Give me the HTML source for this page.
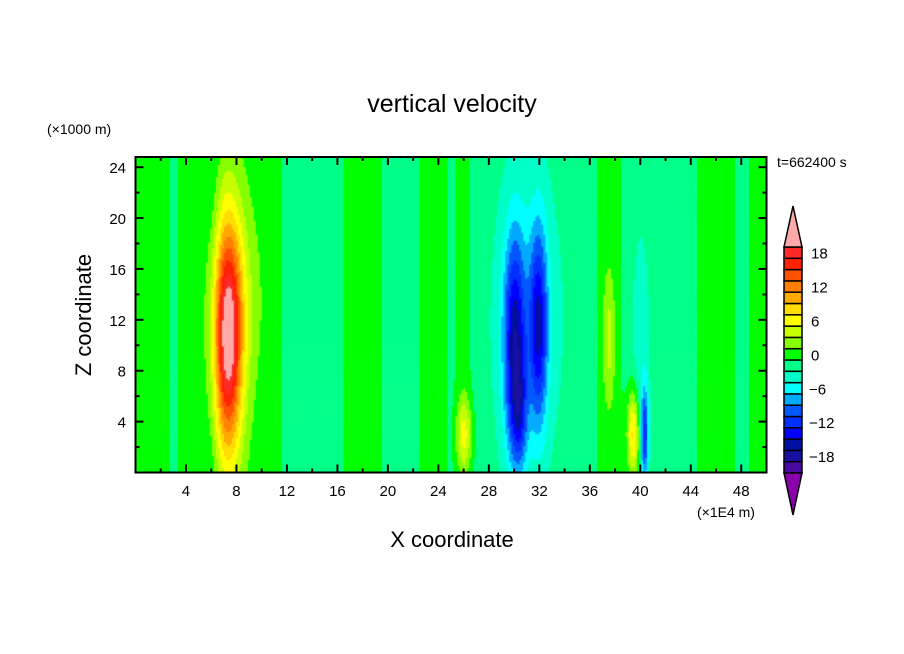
<!DOCTYPE html>
<html><head><meta charset="utf-8"><style>
body{margin:0;background:#fff;width:904px;height:654px;overflow:hidden;font-family:"Liberation Sans","DejaVu Sans",sans-serif}
svg{position:absolute;left:0;top:0}
canvas{position:absolute;left:136px;top:157px}
</style></head><body>
<canvas id="cv" width="631" height="315"></canvas>
<svg id="sv" width="904" height="654"></svg>
<script>
// ---- data ----
const levels=[-20,-18,-16,-14,-12,-10,-8,-6,-4,-2,0,2,4,6,8,10,12,14,16,18,20];
const bandColors=["#4a0aa0","#1a10a0","#0010a0","#0000ff","#0030ff","#0058ff","#00aaff","#00ffff","#00ffc8","#00ff88","#00ff00","#88ff00","#c8ff00","#ffff00","#ffdd00","#ffaa00","#ff8000","#ff5000","#ff2200","#ff2828"];
const overColor="#ffaaaa", underColor="#8a00aa";
const xTicks=[4,8,12,16,20,24,28,32,36,40,44,48];
const zTicks=[4,8,12,16,20,24];
const cbLabels=[18,12,6,0,-6,-12,-18];
// background stripe values at x = 0,1,...,50
const bgCols=[1,0.5,1,-0.5,1,1,-0.6,1,1,1,1,1,-1,-1,-1,-1,-1,1,1,1,-1,-1,-1,1,1,-0.5,1,-1,-1,-1,-1,-1,-1,-1,-1,-1,-1,1,0.8,-1,-1,-1,-1,-1,-1,1,1,1,-1,1,1];
// features: x, z, sigma-x, sigma-z, amplitude
const featX=[7.3,7.9,30.0,30.4,31.9,31.0,26.0,37.5,39.4,40.3,40.0];
const featZ=[10.5,13.5,10.0,4.5,11.5,12.0,3.0,10.5,3.0,3.0,9.0];
const featSX=[0.8,1.3,0.6,0.45,0.5,1.8,0.45,0.3,0.35,0.2,0.5];
const featSZ=[6.5,5.5,6.0,3.0,5.5,8.0,2.0,3.5,2.5,2.5,7.0];
const featA=[20,3,-12,-6,-11,-3.5,6,4,10,-10,-2.5];
// ---- axes ----
const X0=135.5,X1=766.5,Y0=472.5,Y1=157;
const XMAX=50,ZMAX=24.8;
const sx=v=>X0+(v/XMAX)*(X1-X0);
const sz=v=>Y0-(v/ZMAX)*(Y0-Y1);
function field(x,z){
  const i=Math.min(49,Math.floor(x)),f=x-i;
  let v=bgCols[i]*(1-f)+bgCols[i+1]*f;
  for(let k=0;k<featX.length;k++){
    const dx=(x-featX[k])/featSX[k],dz=(z-featZ[k])/featSZ[k];
    v+=featA[k]*Math.exp(-0.5*(dx*dx+dz*dz));
  }
  return v;
}
function colorOf(v){
  if(v>=levels[levels.length-1])return overColor;
  if(v<levels[0])return underColor;
  for(let i=0;i<bandColors.length;i++) if(v<levels[i+1])return bandColors[i];
}
const cv=document.getElementById('cv'),ctx=cv.getContext('2d');
const NX=316,NZ=158,cw=631/NX,ch=315/NZ;
for(let i=0;i<NX;i++)for(let j=0;j<NZ;j++){
  const x=(i+0.5)/NX*XMAX,z=ZMAX-(j+0.5)/NZ*ZMAX;
  ctx.fillStyle=colorOf(field(x,z));
  ctx.fillRect(i*cw,j*ch,cw+0.6,ch+0.6);
}
const sv=document.getElementById('sv'),NS="http://www.w3.org/2000/svg";
function el(t,a,txt){const e=document.createElementNS(NS,t);for(const k in a)e.setAttribute(k,a[k]);if(txt!=null)e.textContent=txt;sv.appendChild(e);return e;}
let e;
e=el('rect',{x:X0,y:Y1,width:X1-X0,height:Y0-Y1,fill:'none',stroke:'#000','stroke-width':2});

for(let v=2;v<XMAX;v+=2){const L=v%4==0?8:4;
 el('line',{x1:sx(v),x2:sx(v),y1:Y0,y2:Y0-L,stroke:'#000','stroke-width':2});
 el('line',{x1:sx(v),x2:sx(v),y1:Y1,y2:Y1+L,stroke:'#000','stroke-width':2});}
for(let v=2;v<ZMAX;v+=2){const L=v%4==0?8:4;
 el('line',{x1:X0,x2:X0+L,y1:sz(v),y2:sz(v),stroke:'#000','stroke-width':2});
 el('line',{x1:X1,x2:X1-L,y1:sz(v),y2:sz(v),stroke:'#000','stroke-width':2});}
xTicks.forEach(v=>{e=el('text',{x:sx(v),y:496,'text-anchor':'middle','font-size':15},v);
 });
zTicks.forEach(v=>{e=el('text',{x:126,y:sz(v)+6,'text-anchor':'end','font-size':15},v);
 });
e=el('text',{x:452,y:112,'text-anchor':'middle','font-size':25},'vertical velocity');

e=el('text',{x:47,y:134,'font-size':14},'(×1000 m)');

e=el('text',{x:777,y:167,'font-size':14},'t=662400 s');

e=el('text',{x:697,y:517,'font-size':14},'(×1E4 m)');

e=el('text',{x:452,y:547,'text-anchor':'middle','font-size':22},'X coordinate');

e=el('text',{x:91,y:315,'text-anchor':'middle','font-size':22,transform:'rotate(-90 91 315)'},'Z coordinate');

// colorbar
const CB0=473,CB1=247,CX=784,CW=18;
const cy=v=>CB0-(v-levels[0])/(levels[levels.length-1]-levels[0])*(CB0-CB1);
for(let i=0;i<bandColors.length;i++){
 e=el('rect',{x:CX,y:cy(levels[i+1]),width:CW,height:cy(levels[i])-cy(levels[i+1]),fill:bandColors[i],stroke:'#000','stroke-width':1.5});
 }
e=el('polygon',{points:`${CX},${CB1} ${CX+CW},${CB1} ${CX+CW/2},206`,fill:overColor,stroke:'#000','stroke-width':1.5});

e=el('polygon',{points:`${CX},${CB0} ${CX+CW},${CB0} ${CX+CW/2},515`,fill:underColor,stroke:'#000','stroke-width':1.5});

cbLabels.forEach(v=>{const t=v<0?'−'+(-v):String(v);
 e=el('text',{x:v<0?809:811,y:cy(v+1)+6,'font-size':15},t);
 });
</script>
</body></html>
